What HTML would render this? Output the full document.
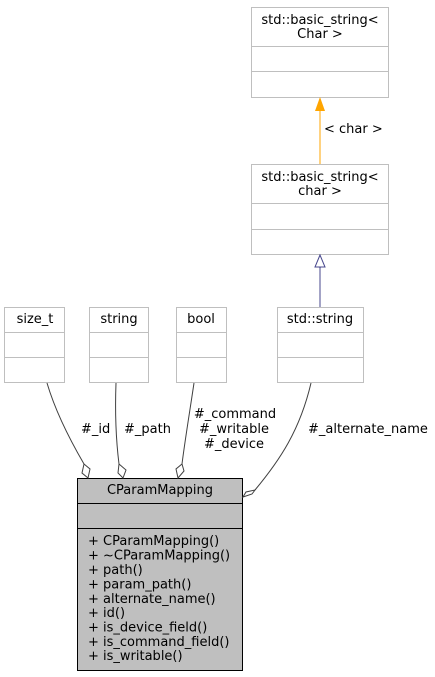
<!DOCTYPE html>
<html><head><meta charset="utf-8"><style>html,body{margin:0;padding:0;background:#fff}svg{display:block}text{font-family:"DejaVu Sans","Liberation Sans",sans-serif;font-size:13px;fill:#000}</style></head>
<body>
<svg width="435" height="677" viewBox="0 0 435 677">
<g fill="#fff" stroke="#bfbfbf" stroke-width="1">
<rect x="251.5" y="7.5" width="137" height="90"/><line x1="251.5" y1="46.5" x2="388.5" y2="46.5"/><line x1="251.5" y1="71.5" x2="388.5" y2="71.5"/>
<rect x="251.5" y="164.5" width="137" height="90"/><line x1="251.5" y1="203.5" x2="388.5" y2="203.5"/><line x1="251.5" y1="229.5" x2="388.5" y2="229.5"/>
<rect x="277.5" y="307.5" width="86" height="75"/><line x1="277.5" y1="332.5" x2="363.5" y2="332.5"/><line x1="277.5" y1="357.5" x2="363.5" y2="357.5"/>
<rect x="4.5" y="307.5" width="60" height="75"/><line x1="4.5" y1="332.5" x2="64.5" y2="332.5"/><line x1="4.5" y1="357.5" x2="64.5" y2="357.5"/>
<rect x="89.5" y="307.5" width="59" height="75"/><line x1="89.5" y1="332.5" x2="148.5" y2="332.5"/><line x1="89.5" y1="357.5" x2="148.5" y2="357.5"/>
<rect x="176.5" y="307.5" width="50" height="75"/><line x1="176.5" y1="332.5" x2="226.5" y2="332.5"/><line x1="176.5" y1="357.5" x2="226.5" y2="357.5"/>
</g>
<g fill="#bfbfbf" stroke="#000">
<rect x="77.5" y="478.5" width="165" height="192"/><line x1="77.5" y1="503.5" x2="242.5" y2="503.5"/><line x1="77.5" y1="528.5" x2="242.5" y2="528.5"/>
</g>
<line x1="320" y1="164" x2="320" y2="110" stroke="#ffa500"/>
<polygon points="320,97 315,111 325,111" fill="#ffa500"/>
<line x1="320" y1="307" x2="320" y2="267" stroke="#191970" stroke-opacity="0.8"/>
<polygon points="320,255 315,267 325,267" fill="#fff" stroke="#191970" stroke-opacity="0.8"/>
<g fill="none" stroke="#404040">
<path d="M47,383 C55,410 70,440 84,464"/>
<path d="M116,383 C115,410 116,440 119,464"/>
<path d="M194,383 C190,410 185,440 182,464"/>
<path d="M311,383 C300,430 280,460 255,490"/>
</g>
<g fill="#fff" stroke="#404040">
<polygon points="88,478 90,469 84,464 82,473"/>
<polygon points="123,478 126,470 119,464 118,473"/>
<polygon points="178,478 184,471 182,464 176,469"/>
<polygon points="243,497 252,494 255,490 246,492"/>
</g>
<g text-anchor="middle">
<text x="320" y="24">std::basic_string&lt;</text><text x="320" y="38">Char &gt;</text>
<text x="320" y="181">std::basic_string&lt;</text><text x="320" y="195">char &gt;</text>
<text x="320" y="323">std::string</text>
<text x="35" y="323">size_t</text>
<text x="119" y="323">string</text>
<text x="201" y="323">bool</text>
<text x="160" y="494">CParamMapping</text>
<text x="235" y="418">#_command</text><text x="234" y="433">#_writable</text><text x="234" y="448">#_device</text>
</g>
<text x="324" y="133">&lt; char &gt;</text>
<text x="81" y="433">#_id</text>
<text x="124" y="433">#_path</text>
<text x="308" y="433">#_alternate_name</text>
<g>
<text x="88" y="545">+ CParamMapping()</text>
<text x="88" y="559.5">+ ~CParamMapping()</text>
<text x="88" y="574">+ path()</text>
<text x="88" y="588.5">+ param_path()</text>
<text x="88" y="603">+ alternate_name()</text>
<text x="88" y="617">+ id()</text>
<text x="88" y="631.5">+ is_device_field()</text>
<text x="88" y="646">+ is_command_field()</text>
<text x="88" y="660">+ is_writable()</text>
</g>
</svg>
</body></html>
